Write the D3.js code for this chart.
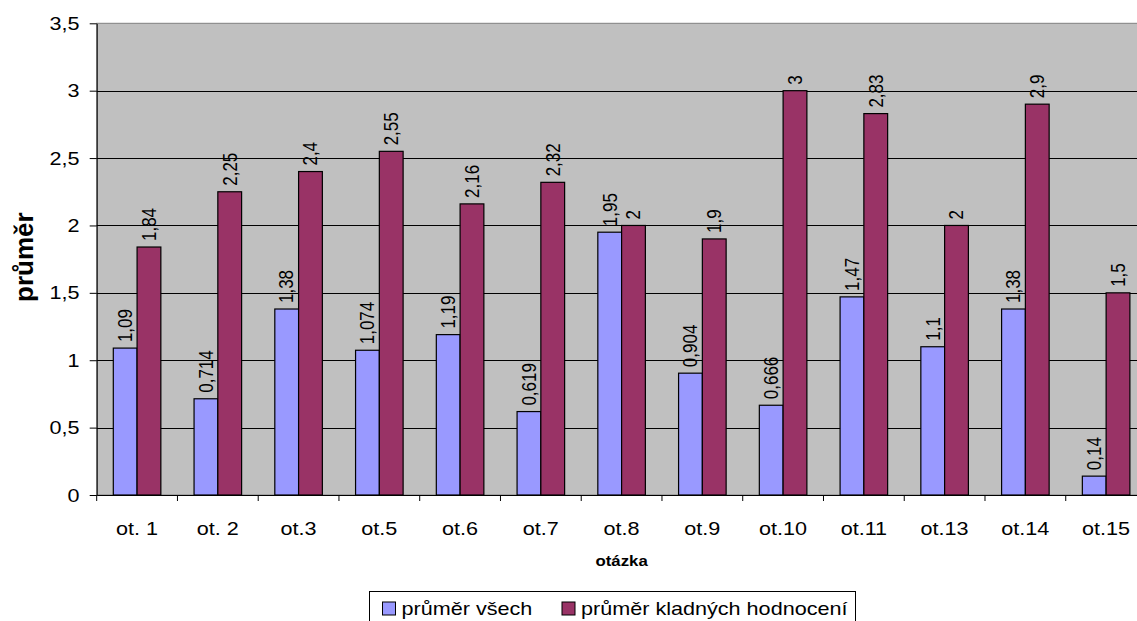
<!DOCTYPE html>
<html>
<head>
<meta charset="utf-8">
<script src="https://cdn.jsdelivr.net/npm/d3@7"></script>
<style>
  html, body { margin: 0; padding: 0; background: #fff; }
  svg { display: block; }
  text { font-family: "Liberation Sans", Arial, sans-serif; fill: #000; }
</style>
</head>
<body>
<svg id="chart" width="1137" height="621"></svg>
<script>
const categories = ["ot. 1","ot. 2","ot.3","ot.5","ot.6","ot.7","ot.8","ot.9","ot.10","ot.11","ot.13","ot.14","ot.15"];
const seriesNames = ["průměr všech", "průměr kladných hodnocení"];
const prumerVsech = [1.09, 0.714, 1.38, 1.074, 1.19, 0.619, 1.95, 0.904, 0.666, 1.47, 1.1, 1.38, 0.14];
const prumerKladnych = [1.84, 2.25, 2.4, 2.55, 2.16, 2.32, 2, 1.9, 3, 2.83, 2, 2.9, 1.5];
const yTicks = [0, 0.5, 1, 1.5, 2, 2.5, 3, 3.5];
const colors = ["#9999FF", "#993366"];

const svg = d3.select("#chart");
const SX = 1.2; // horizontal text stretch seen in reference
const pLeft = 96.7, pRight = 1146.5, pTop = 23.3, pBottom = 495;

const x = d3.scaleBand().domain(categories).range([pLeft, pRight]).padding(0);
const xs = d3.scaleBand().domain([0, 1]).range([16.6, x.bandwidth() - 16.6]).padding(0);
const y = d3.scaleLinear().domain([0, 3.5]).range([pBottom, pTop]);

const fmt = v => String(v).replace(".", ",");

// plot background
svg.append("rect").attr("x", pLeft).attr("y", pTop)
  .attr("width", pRight - pLeft).attr("height", pBottom - pTop)
  .attr("fill", "#C0C0C0").attr("stroke", "#808080").attr("stroke-width", 1);

// gridlines
svg.append("g").selectAll("line").data(yTicks.filter(t => t > 0 && t < 3.5)).join("line")
  .attr("x1", pLeft).attr("x2", pRight)
  .attr("y1", d => Math.round(y(d)) + 0.5).attr("y2", d => Math.round(y(d)) + 0.5)
  .attr("stroke", "#000").attr("stroke-width", 1);

// bars
const data = categories.map((c, i) => ({ c, vals: [prumerVsech[i], prumerKladnych[i]] }));
const groups = svg.append("g").selectAll("g").data(data).join("g")
  .attr("transform", d => `translate(${x(d.c)},0)`);
groups.selectAll("rect").data(d => d.vals.map((v, k) => ({ v, k }))).join("rect")
  .attr("x", d => xs(d.k)).attr("width", xs.bandwidth())
  .attr("y", d => y(d.v)).attr("height", d => y(0) - y(d.v))
  .attr("fill", d => colors[d.k]).attr("stroke", "#000").attr("stroke-width", 1.2);

// data labels (rotated)
const LF = 17;
groups.selectAll("text").data(d => d.vals.map((v, k) => ({ v, k }))).join("text")
  .attr("transform", d => {
    const cx = xs(d.k) + xs.bandwidth() / 2 + 0.716 * LF * SX / 2 - 0.5;
    return `translate(${cx},${y(d.v) - 6}) scale(${SX},1) rotate(-90)`;
  })
  .attr("font-size", LF)
  .attr("text-anchor", "start")
  .text(d => fmt(d.v));

// y axis
const yAxis = d3.axisLeft(y).tickValues(yTicks).tickSize(7).tickSizeOuter(0).tickFormat(fmt);
const yg = svg.append("g").attr("transform", `translate(${pLeft},0)`).call(yAxis);
yg.select(".domain").attr("stroke", "#000");
yg.selectAll(".tick line").attr("stroke", "#000");
yg.selectAll(".tick text").remove();
svg.append("g").selectAll("text").data(yTicks).join("text")
  .attr("transform", d => `translate(79.5,${y(d) + 6.5}) scale(${SX},1)`)
  .attr("font-size", 18).attr("text-anchor", "end")
  .text(fmt);

// x axis
const xAxis = d3.axisBottom(x).tickSize(0).tickSizeOuter(0);
const xg = svg.append("g").attr("transform", `translate(0,${pBottom})`).call(xAxis);
xg.select(".domain").attr("stroke", "#000");
xg.selectAll(".tick text").remove();
svg.append("g").selectAll("line").data(categories.concat(["__end"])).join("line")
  .attr("x1", (d, i) => pLeft + i * x.bandwidth()).attr("x2", (d, i) => pLeft + i * x.bandwidth())
  .attr("y1", pBottom).attr("y2", pBottom + 6).attr("stroke", "#000");
svg.append("g").selectAll("text").data(categories).join("text")
  .attr("transform", d => `translate(${x(d) + x.bandwidth() / 2},535) scale(${SX},1)`)
  .attr("font-size", 18).attr("text-anchor", "middle")
  .text(d => d);

// axis titles
svg.append("text")
  .attr("transform", `translate(${(pLeft + pRight) / 2},566) scale(${SX},1)`)
  .attr("font-size", 14).attr("font-weight", "bold").attr("text-anchor", "middle")
  .text("otázka");
svg.append("text")
  .attr("transform", `translate(32.5,${(pTop + pBottom) / 2 - 2}) rotate(-90)`)
  .attr("font-size", 26).attr("font-weight", "bold").attr("text-anchor", "middle")
  .text("průměr");

// legend
const lg = svg.append("g");
lg.append("rect").attr("x", 369.5).attr("y", 591.5).attr("width", 486).attr("height", 40)
  .attr("fill", "#fff").attr("stroke", "#000").attr("stroke-width", 1);
const legendX = [382.5, 562];
seriesNames.forEach((s, i) => {
  lg.append("rect").attr("x", legendX[i]).attr("y", 602).attr("width", 13).attr("height", 13)
    .attr("fill", colors[i]).attr("stroke", "#000").attr("stroke-width", 1);
  lg.append("text")
    .attr("transform", `translate(${legendX[i] + 19},615) scale(${SX},1)`)
    .attr("font-size", 18).text(s);
});
</script>
</body>
</html>
